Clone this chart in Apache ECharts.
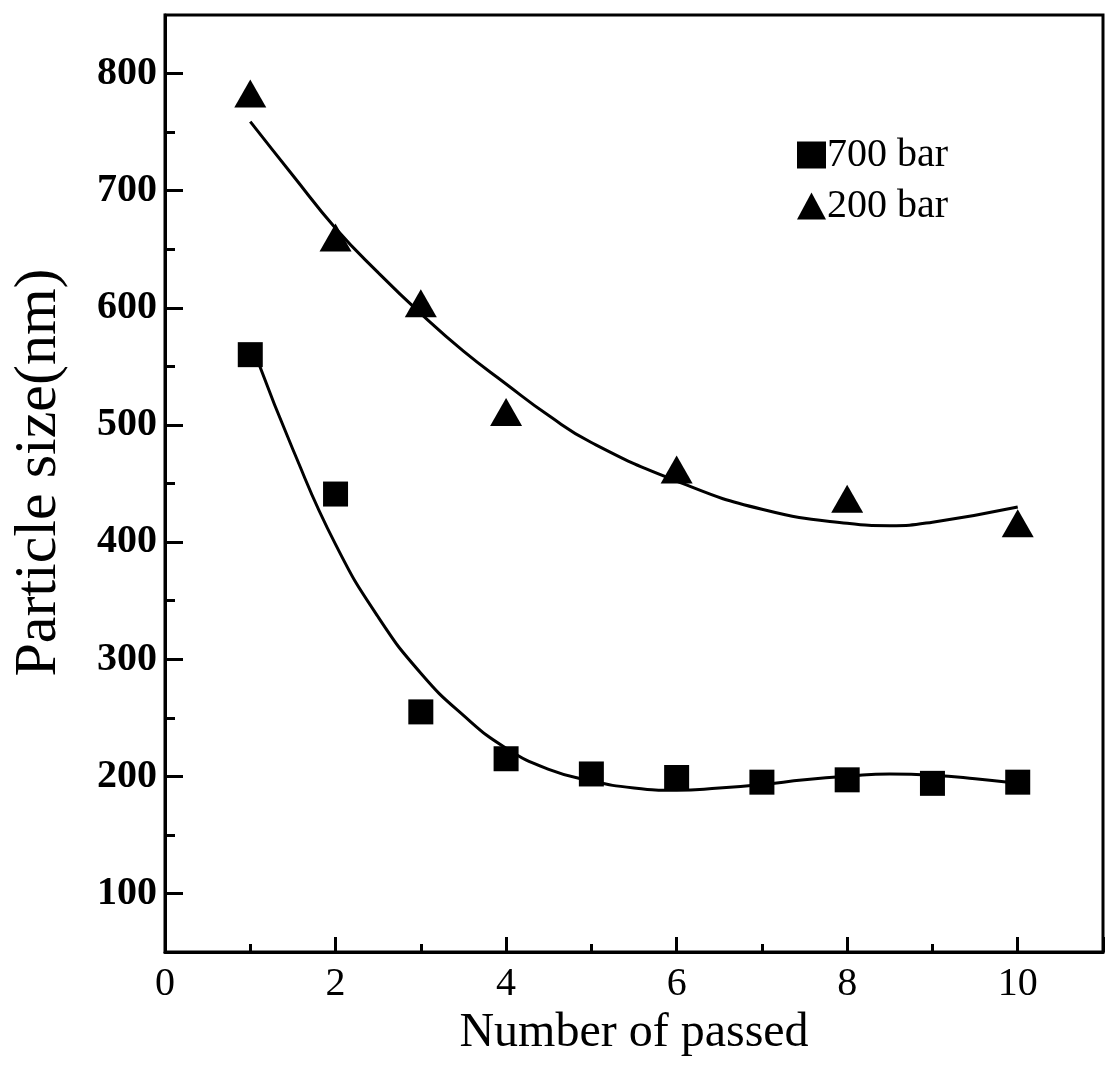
<!DOCTYPE html>
<html>
<head>
<meta charset="utf-8">
<title>Particle size vs number of passes</title>
<script src="https://cdn.jsdelivr.net/npm/echarts@6/dist/echarts.min.js"></script>
<style>
    html, body { margin: 0; padding: 0; background: #fff; }
    #chart { width: 1110px; height: 1076px; }
</style>
</head>
<body>
<div id="chart"></div>
<script>
// measured points
var passes700 = [1, 2, 3, 4, 5, 6, 7, 8, 9, 10];
var size700 = [560, 441, 255, 215, 202, 199, 195, 197, 194, 195];
var passes200 = [1, 2, 3, 4, 6, 8, 10];
var size200 = [783, 660, 604, 511, 462, 437, 416];

// fitted curves
var fitX700 = [1.08, 1.5, 2, 2.5, 3, 3.5, 4, 4.5, 5, 5.5, 6, 6.5, 7, 7.5, 8, 8.5, 9, 9.5, 10];
var fitY700 = [556, 479, 398, 336, 288, 252, 224, 206, 196, 190, 188, 190, 193, 197, 200, 202, 201, 198, 194];
var fitX200 = [1, 1.5, 2, 2.5, 3, 3.5, 4, 4.5, 5, 6, 7, 8, 8.5, 9, 10];
var fitY200 = [759, 713, 668, 630, 595, 563, 535, 508, 485, 452, 428, 416, 414, 417, 430];

var majorY = [100, 200, 300, 400, 500, 600, 700, 800];
var minorY = [150, 250, 350, 450, 550, 650, 750];

function pairs(xs, ys) {
    return xs.map(function (x, i) { return [x, ys[i]]; });
}

var font = '"Liberation Serif", "DejaVu Serif", serif';
var chart = echarts.init(document.getElementById('chart'));

var option = {
    backgroundColor: '#fff',
    animation: false,
    textStyle: { fontFamily: font, color: '#000' },
    grid: {
        left: 165, right: 7, top: 15, bottom: 124,
        show: true, borderColor: '#000', borderWidth: 3
    },
    legend: {
        data: ['700 bar', '200 bar'],
        orient: 'vertical',
        left: 792, top: 130,
        itemWidth: 29, itemHeight: 27, itemGap: 11,
        textStyle: { fontFamily: font, fontSize: 40, color: '#000', padding: [0, 0, 0, -4] }
    },
    xAxis: {
        type: 'value',
        min: 0, max: 11, interval: 2,
        name: 'Number of passed',
        nameLocation: 'middle',
        nameGap: 43,
        nameTextStyle: { fontFamily: font, fontSize: 48, color: '#000' },
        axisLine: { lineStyle: { color: '#000', width: 3 } },
        axisTick: { inside: true, length: 15, lineStyle: { color: '#000', width: 3 } },
        minorTick: { show: true, splitNumber: 2, length: 8, lineStyle: { color: '#000', width: 3 } },
        axisLabel: { showMaxLabel: false, fontFamily: font, fontSize: 40, color: '#000', margin: 12 },
        splitLine: { show: false }
    },
    yAxis: [
        {
            type: 'value',
            min: 50, max: 850, interval: 50,
            name: 'Particle size(nm)',
            nameLocation: 'middle',
            nameGap: 96,
            nameTextStyle: { fontFamily: font, fontSize: 60, color: '#000', padding: [0, 0, 0, 22] },
            axisLine: { lineStyle: { color: '#000', width: 3 } },
            axisTick: { inside: true, length: 18, customValues: majorY, lineStyle: { color: '#000', width: 3 } },
            axisLabel: { customValues: majorY, fontFamily: font, fontSize: 40, fontWeight: 'bold', color: '#000', margin: 8 },
            splitLine: { show: false }
        },
        {
            type: 'value',
            position: 'left',
            min: 50, max: 850, interval: 50,
            axisLine: { show: false },
            axisTick: { inside: true, length: 10, customValues: minorY, lineStyle: { color: '#000', width: 3 } },
            axisLabel: { show: false },
            splitLine: { show: false }
        }
    ],
    series: [
        {
            name: '700 bar fit',
            type: 'line',
            smooth: true,
            showSymbol: false,
            data: pairs(fitX700, fitY700),
            lineStyle: { color: '#000', width: 3 },
            itemStyle: { color: '#000' }
        },
        {
            name: '200 bar fit',
            type: 'line',
            smooth: true,
            showSymbol: false,
            data: pairs(fitX200, fitY200),
            lineStyle: { color: '#000', width: 3 },
            itemStyle: { color: '#000' }
        },
        {
            name: '700 bar',
            type: 'scatter',
            symbol: 'rect',
            symbolSize: 25,
            data: pairs(passes700, size700),
            itemStyle: { color: '#000', opacity: 1 }
        },
        {
            name: '200 bar',
            type: 'scatter',
            symbol: 'triangle',
            symbolSize: [32, 28],
            data: pairs(passes200, size200),
            itemStyle: { color: '#000', opacity: 1 }
        }
    ]
};

chart.setOption(option);
</script>
</body>
</html>
